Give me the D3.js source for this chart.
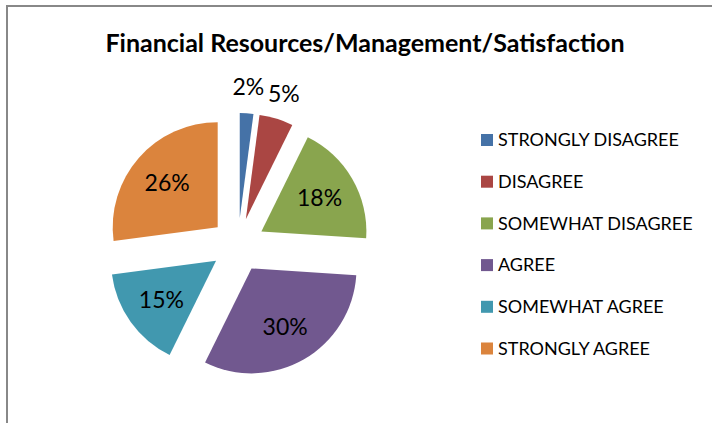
<!DOCTYPE html>
<html lang="en">
<head>
  <meta charset="UTF-8">
  <title>Financial Resources/Management/Satisfaction</title>
  <script src="https://d3js.org/d3.v7.min.js"></script>
  <style>
    body { margin: 0; background: #fff; }
    text { font-family: Lato, "Open Sans", sans-serif; }
  </style>
</head>
<body>
  <div id="container"></div>
  <script>
    var categories = ["STRONGLY DISAGREE", "DISAGREE", "SOMEWHAT DISAGREE", "AGREE", "SOMEWHAT AGREE", "STRONGLY AGREE"];
    var values = [2, 5, 18, 30, 15, 26];
    var colors = ["#4572A7", "#AA4643", "#89A54E", "#71588F", "#4198AF", "#DB843D"];

    var data = categories.map(function (c, i) {
      return { name: c, value: values[i], color: colors[i] };
    });

    var width = 713,
      height = 423,
      cx = 238, cy = 245,
      radius = 105,
      explode = 27;

    var svg = d3.select("#container")
      .append("svg")
      .attr("width", width)
      .attr("height", height);

    // chart border (cropped at right and bottom)
    svg.append("path")
      .attr("d", "M7," + height + "V6H712")
      .attr("fill", "none")
      .attr("stroke", "#888")
      .attr("stroke-width", 2);

    svg.append("text")
      .attr("x", 365)
      .attr("y", 52)
      .attr("text-anchor", "middle")
      .attr("font-size", 25)
      .attr("font-weight", "bold")
      .text("Financial Resources/Management/Satisfaction");

    var pie = d3.pie().sort(null).value(function (d) { return d.value; });
    var arcs = pie(data);

    var arc = d3.arc().innerRadius(0).outerRadius(radius);
    var labelArc = d3.arc().innerRadius(radius * 0.64).outerRadius(radius * 0.64);
    var outerLabelArc = d3.arc().innerRadius(radius + 26).outerRadius(radius + 26);

    function offset(d) {
      var a = (d.startAngle + d.endAngle) / 2;
      return [Math.sin(a) * explode, -Math.cos(a) * explode];
    }

    var g = svg.append("g")
      .attr("transform", "translate(" + cx + "," + cy + ")");

    var slice = g.selectAll(".slice")
      .data(arcs)
      .enter()
      .append("g")
      .attr("class", "slice")
      .attr("transform", function (d) { return "translate(" + offset(d) + ")"; });

    slice.append("path")
      .attr("d", arc)
      .attr("fill", function (d) { return d.data.color; });

    // small slices get their label outside the pie
    slice.append("text")
      .attr("transform", function (d) {
        var small = d.data.value < 10;
        return "translate(" + (small ? outerLabelArc : labelArc).centroid(d) + ")";
      })
      .attr("text-anchor", "middle")
      .attr("dy", "0.35em")
      .attr("font-size", 23)
      .attr("fill", "#000")
      .text(function (d) { return d.data.value + "%"; });

    var legend = svg.append("g")
      .attr("transform", "translate(481,140)");

    var item = legend.selectAll(".item")
      .data(data)
      .enter()
      .append("g")
      .attr("class", "item")
      .attr("transform", function (d, i) { return "translate(0," + i * 41.7 + ")"; });

    item.append("rect")
      .attr("x", 0)
      .attr("y", -6)
      .attr("width", 12)
      .attr("height", 12)
      .attr("fill", function (d) { return d.color; });

    item.append("text")
      .attr("x", 17)
      .attr("dy", "0.35em")
      .attr("font-size", 18)
      .attr("fill", "#000")
      .text(function (d) { return d.name; });
  </script>
</body>
</html>
